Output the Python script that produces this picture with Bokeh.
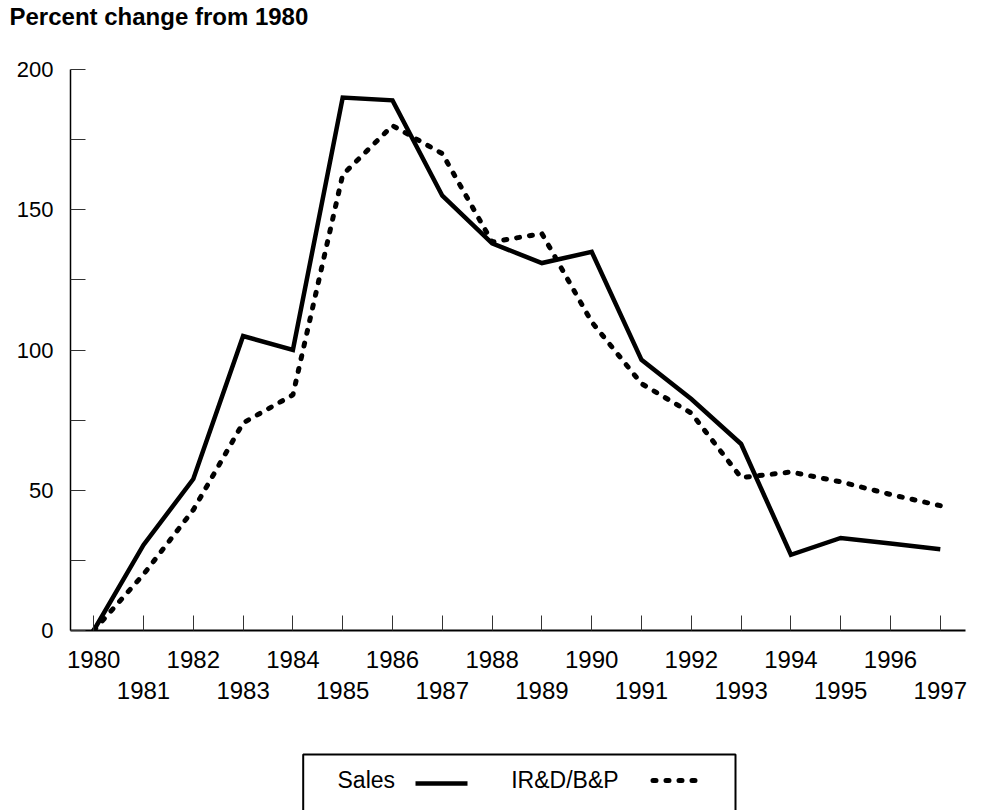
from bokeh.plotting import figure
from bokeh.models import FixedTicker, LinearAxis, Range1d, ColumnDataSource
from bokeh.layouts import column
from bokeh.core.properties import value
from bokeh.embed import file_html
from bokeh.resources import INLINE

# ---- data ----
years = [1980, 1981, 1982, 1983, 1984, 1985, 1986, 1987, 1988,
         1989, 1990, 1991, 1992, 1993, 1994, 1995, 1996, 1997]
sales = [0, 30.5, 54, 105, 100, 190, 189, 155, 138,
         131, 135, 96.5, 82.5, 66.5, 27, 33, 31, 29]
ird_bp = [0, 20, 43, 74, 84, 162.5, 180, 170, 138.5,
          141.5, 110, 88, 77.5, 54.5, 56.5, 53, 48.5, 44.5]
even_years = years[0::2]
odd_years = years[1::2]
y_ticks = [0, 50, 100, 150, 200]
y_minor_ticks = [25, 75, 125, 175]
series_labels = ["Sales", "IR&D/B&P"]
title_text = "Percent change from 1980"

FONT = "Liberation Sans"
W = 982
BL, BR = 70, 17   # side borders shared by all stacked panels


def blank_panel(height, **kw):
    # frame spans x = BL .. W-BR; data x equals page x
    f = figure(width=W, height=height, x_range=Range1d(BL, W - BR),
               y_range=Range1d(height, 0), output_backend="svg",
               toolbar_location=None, x_axis_type=None, y_axis_type=None,
               min_border_left=BL, min_border_right=BR,
               min_border_top=0, min_border_bottom=0, **kw)
    f.outline_line_color = None
    return f


# ---- title panel ----
tp = blank_panel(40, title=title_text)
tp.title.text_font = FONT
tp.title.text_font_size = "24px"
tp.title.text_font_style = "bold"
tp.title.text_color = "black"
tp.title.align = "left"
tp.title.offset = -61
tp.title.standoff = 0

# ---- main chart ----
p = figure(width=W, height=700,
           x_range=Range1d(1979.534, 1997.506), y_range=Range1d(0, 200),
           output_backend="svg", toolbar_location=None,
           min_border_left=BL, min_border_right=BR,
           min_border_top=29, min_border_bottom=110)
p.grid.visible = False
p.outline_line_color = None

xa = p.xaxis[0]
xa.ticker = FixedTicker(ticks=even_years, minor_ticks=odd_years)
xa.major_tick_in = 15
xa.major_tick_out = 0
xa.minor_tick_in = 15
xa.minor_tick_out = 0
xa.axis_line_width = 2
xa.axis_line_color = "black"
xa.major_tick_line_color = "#333333"
xa.minor_tick_line_color = "#333333"
xa.major_tick_line_width = 1
xa.minor_tick_line_width = 1
xa.major_label_text_font = FONT
xa.major_label_text_font_size = "24px"
xa.major_label_text_color = "black"
xa.major_label_standoff = 20

xa2 = LinearAxis(ticker=FixedTicker(ticks=odd_years),
                 axis_line_color=None, major_tick_line_color=None,
                 minor_tick_line_color=None,
                 major_label_text_font=FONT,
                 major_label_text_font_size="24px",
                 major_label_text_color="black",
                 major_label_standoff=5)
p.add_layout(xa2, "below")

ya = p.yaxis[0]
ya.ticker = FixedTicker(ticks=y_ticks, minor_ticks=y_minor_ticks)
ya.major_tick_in = 15
ya.major_tick_out = 0
ya.minor_tick_in = 15
ya.minor_tick_out = 0
ya.axis_line_width = 1.5
ya.axis_line_color = "black"
ya.major_tick_line_color = "#333333"
ya.minor_tick_line_color = "#333333"
ya.major_label_text_font = FONT
ya.major_label_text_font_size = "22px"
ya.major_label_text_color = "black"
ya.major_label_standoff = 17

src = ColumnDataSource(dict(year=years, sales=sales, ird=ird_bp))
p.line("year", "sales", source=src, line_color="black", line_width=4.5,
       line_join="miter")
p.line("year", "ird", source=src, line_color="black", line_width=5,
       line_dash="3 10", line_cap="round")

# ---- legend panel (label then sample, as in the original) ----
leg = blank_panel(70)
leg.quad(left=[302.7], right=[735], top=[14], bottom=[120],
         fill_color=None, line_color="black", line_width=2)
leg.text(x=[337], y=[39], text=[series_labels[0]], text_font=value(FONT),
         text_font_size="23px", text_baseline="middle", text_align="left",
         text_color="black")
leg.line(x=[415, 467], y=[43, 43], line_color="black", line_width=4.5)
leg.text(x=[510.7], y=[39], text=[series_labels[1]], text_font=value(FONT),
         text_font_size="23px", text_baseline="middle", text_align="left",
         text_color="black")
leg.line(x=[652.5, 694.5], y=[40, 40], line_color="black", line_width=5,
         line_dash="3 10", line_cap="round")

layout = column(tp, p, leg)
open("out.html", "w").write(file_html(layout, INLINE))
